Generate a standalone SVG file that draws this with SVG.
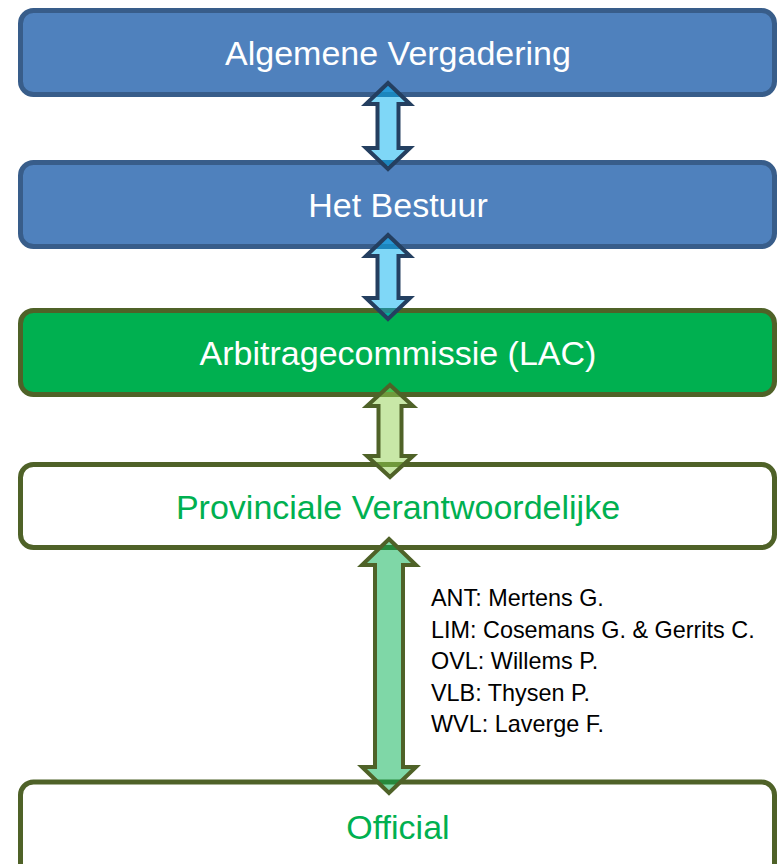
<svg xmlns="http://www.w3.org/2000/svg" width="778" height="864" viewBox="0 0 778 864">
<style>
.box{stroke-width:5}
.blue{fill:#4f81bd;stroke:#385d8a}
.green{fill:#00b050;stroke:#4f6228}
.white{fill:#ffffff;stroke:#4f6228}
.t{font-family:"Liberation Sans",Arial,sans-serif;font-size:34px;text-anchor:middle}
.tw{fill:#ffffff}
.tg{fill:#00b050}
.s{font-family:"Liberation Sans",Arial,sans-serif;font-size:23.4px;fill:#000000}
.arr{stroke-width:4;stroke-linejoin:miter}
.ab{fill:#00b0f0;fill-opacity:0.5;stroke:#243f60}
.ag1{fill:#92d050;fill-opacity:0.5;stroke:#4f6228}
.ag2{fill:#00b050;fill-opacity:0.5;stroke:#4f6228}
</style>
<rect width="778" height="864" fill="#ffffff"/>
<g id="algemene-vergadering">
<rect class="box blue" x="20.5" y="10.5" width="754" height="84" rx="13"/>
<text class="t tw" x="398" y="64.5">Algemene Vergadering</text>
</g>
<g id="het-bestuur">
<rect class="box blue" x="20.5" y="162.5" width="754" height="84" rx="13"/>
<text class="t tw" x="398" y="216.5">Het Bestuur</text>
</g>
<g id="arbitragecommissie">
<rect class="box green" x="20.5" y="310.5" width="754" height="84" rx="13"/>
<text class="t tw" x="398" y="364.5">Arbitragecommissie (LAC)</text>
</g>
<g id="provinciale-verantwoordelijke">
<rect class="box white" x="20.5" y="464.5" width="754" height="83" rx="13"/>
<text class="t tg" x="398" y="518.5">Provinciale Verantwoordelijke</text>
</g>
<g id="official">
<rect class="box white" x="20.5" y="782" width="754" height="100" rx="13"/>
<text class="t tg" x="398" y="838.5">Official</text>
</g>
<g id="connectors">
<path class="arr ab" d="M388,83 L410,104 L398.5,104 L398.5,148 L410,148 L388,169 L366,148 L377.5,148 L377.5,104 L366,104 Z"/>
<path class="arr ab" d="M388,235 L410,256 L398.5,256 L398.5,298 L410,298 L388,319 L366,298 L377.5,298 L377.5,256 L366,256 Z"/>
<path class="arr ag1" d="M390,385 L413,406 L401.5,406 L401.5,456 L413,456 L390,477 L367,456 L378.5,456 L378.5,406 L367,406 Z"/>
<path class="arr ag2" d="M389,539 L416,565 L403,565 L403,767 L416,767 L389,793 L362,767 L375,767 L375,565 L362,565 Z"/>
</g>
<g id="names">
<text class="s" x="431" y="606">ANT: Mertens G.</text>
<text class="s" x="431" y="637.5">LIM: Cosemans G. &amp; Gerrits C.</text>
<text class="s" x="431" y="669">OVL: Willems P.</text>
<text class="s" x="431" y="700.5">VLB: Thysen P.</text>
<text class="s" x="431" y="732">WVL: Laverge F.</text>
</g>
</svg>
